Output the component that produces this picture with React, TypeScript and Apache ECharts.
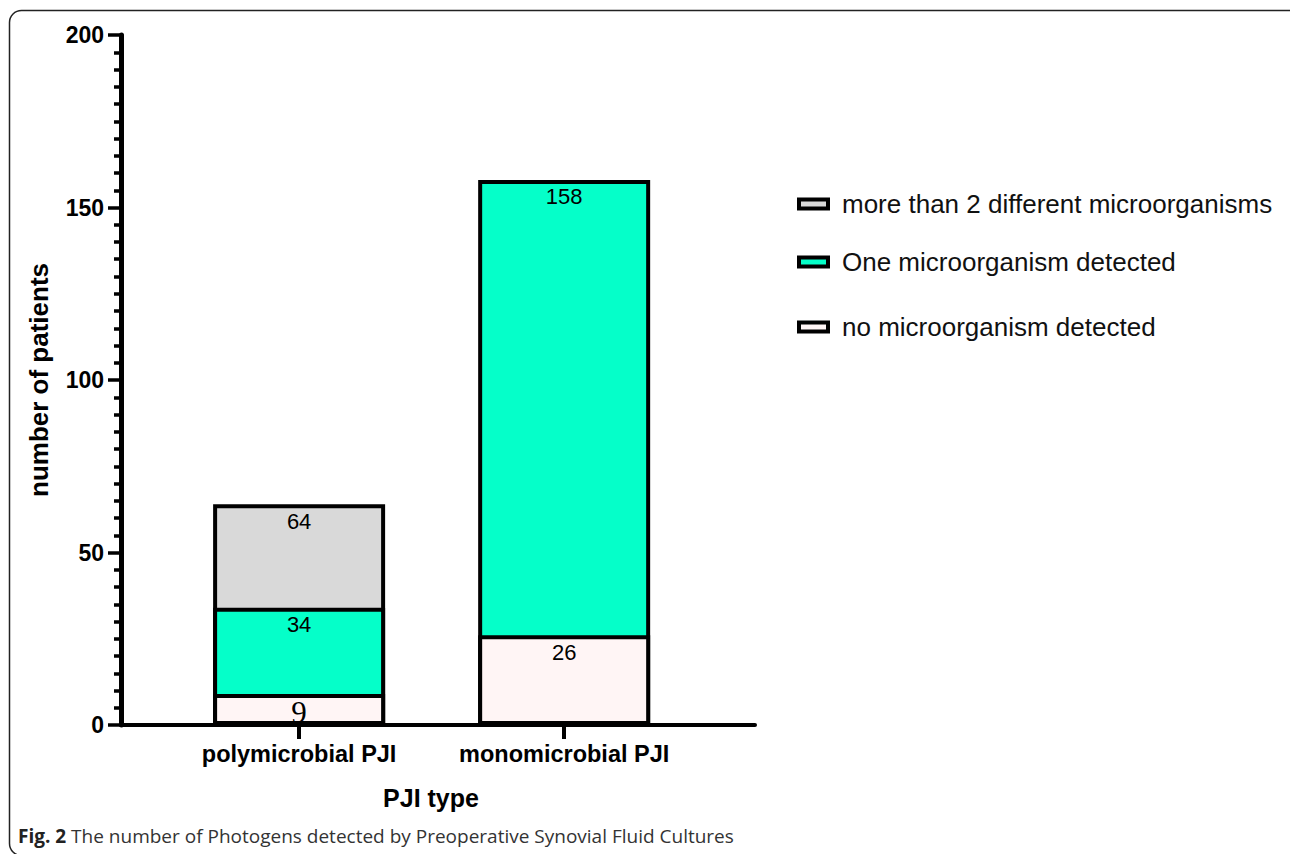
import React, { useEffect, useRef } from "react";
import * as echarts from "echarts";

// ---- data ----
const categories = ["polymicrobial PJI", "monomicrobial PJI"];
const categoryPositions = [1, 2];
// cumulative totals as labelled on the bars
const noMicroTotals: (number | null)[] = [9, 26];
const oneMicroTotals: (number | null)[] = [34, 158];
const moreMicroTotals: (number | null)[] = [64, null];
const seriesNames = [
  "more than 2 different microorganisms",
  "One microorganism detected",
  "no microorganism detected",
];
const seriesColors = ["#D9D9D9", "#05FFC9", "#FFF5F5"];
const yMin = 0;
const yMax = 200;
const yInterval = 50;
const caption = "The number of Photogens detected by Preoperative Synovial Fluid Cultures";

const SANS = "Liberation Sans, Arial, Helvetica, sans-serif";

function buildData(totals: (number | null)[]) {
  return totals.map((v, i) => [categoryPositions[i], v === null ? "-" : v]);
}

export default function App() {
  const ref = useRef<HTMLDivElement>(null);

  useEffect(() => {
    document.body.style.margin = "0";
    if (!ref.current) return;
    const chart = echarts.init(ref.current, undefined, { renderer: "svg" });

    const totalsList = [moreMicroTotals, oneMicroTotals, noMicroTotals];

    const baseLabel = {
      show: true,
      position: "insideTop",
      distance: 6,
      fontFamily: SANS,
      fontSize: 22,
      color: "#000",
      formatter: (p: any) => String(p.value[1]),
    };

    const series: any[] = totalsList.map((totals, si) => {
      const data: any[] = buildData(totals);
      if (si === 2) {
        // the small "9" label is drawn in a serif face in the reference
        data[0] = {
          value: data[0],
          label: { fontFamily: "Liberation Serif, Times New Roman, serif", fontSize: 31, distance: 3 },
        };
      }
      return {
        name: seriesNames[si],
        type: "bar",
        barWidth: 172,
        barGap: "-100%",
        data,
        itemStyle: { color: seriesColors[si], borderColor: "#000", borderWidth: 4 },
        label: baseLabel,
        z: 2 + si,
      };
    });

    const legendTops = [186, 244, 309];
    const legends = seriesNames.map((n, i) => ({
      data: [n],
      left: 792,
      top: legendTops[i],
      orient: "vertical",
      icon: "rect",
      itemWidth: 29,
      itemHeight: 9,
      itemStyle: { borderColor: "#000", borderWidth: 4 },
      textStyle: { fontFamily: SANS, fontSize: 26, color: "#111", padding: [0, 0, 0, 9] },
      selectedMode: false,
    }));

    chart.setOption({
      animation: false,
      backgroundColor: "#fff",
      grid: { left: 121, right: 535, top: 35, bottom: 129 },
      title: {
        text: "{b|Fig. 2} " + caption,
        left: 18,
        top: 826,
        padding: 0,
        textStyle: {
          fontFamily: "Open Sans, sans-serif",
          fontSize: 19,
          fontWeight: "normal",
          color: "#333",
          rich: {
            b: { fontFamily: "Open Sans, sans-serif", fontSize: 19, fontWeight: "bold", color: "#222" },
          },
        },
      },
      legend: legends,
      xAxis: {
        type: "value",
        min: 0.328,
        max: 2.72,
        name: "PJI type",
        nameLocation: "middle",
        nameGap: 60,
        nameTextStyle: { fontFamily: SANS, fontSize: 25, fontWeight: "bold", color: "#000", padding: [0, 14, 0, 0] },
        splitLine: { show: false },
        axisLine: { show: true, onZero: false, lineStyle: { color: "#000", width: 4 } },
        axisTick: { show: true, length: 14, lineStyle: { color: "#000", width: 4 }, customValues: categoryPositions },
        axisLabel: {
          customValues: categoryPositions,
          margin: 17,
          fontFamily: SANS,
          fontSize: 23.5,
          fontWeight: "bold",
          color: "#000",
          formatter: (v: number) => {
            const idx = categoryPositions.indexOf(Math.round(v));
            return idx >= 0 ? categories[idx] : "";
          },
        },
      },
      yAxis: {
        type: "value",
        min: yMin,
        max: yMax,
        interval: yInterval,
        name: "number of patients",
        nameLocation: "middle",
        nameGap: 69,
        nameTextStyle: { fontFamily: SANS, fontSize: 26, fontWeight: "bold", color: "#000" },
        splitLine: { show: false },
        axisLine: { show: true, lineStyle: { color: "#000", width: 5 } },
        axisTick: { show: true, length: 13, lineStyle: { color: "#000", width: 3.5 } },
        minorTick: { show: true, splitNumber: 10, length: 7, lineStyle: { color: "#000", width: 3.5 } },
        axisLabel: { margin: 17, fontFamily: SANS, fontSize: 23, fontWeight: "bold", color: "#000" },
      },
      graphic: [
        {
          type: "rect",
          silent: true,
          shape: { x: 9.5, y: 10.5, width: 1300, height: 845, r: [12, 0, 0, 12] },
          style: { fill: "none", stroke: "#222", lineWidth: 1.5 },
        },
      ],
      series,
    });

    return () => chart.dispose();
  }, []);

  return <div ref={ref} style={{ width: 1290, height: 854 }} />;
}
